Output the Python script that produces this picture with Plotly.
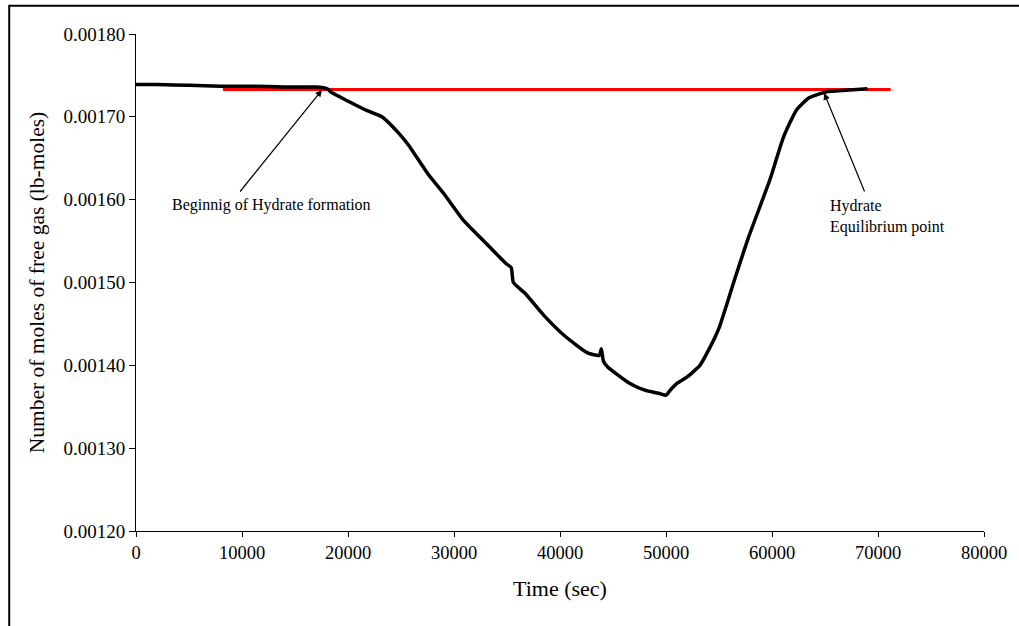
import plotly.graph_objects as go

# Free-gas moles in the cell over time during hydrate formation
time_s = [0, 2000, 5000, 8000, 11000, 14000, 17000, 18000, 18500, 20000, 21700,
          23200, 24800, 25700, 27600, 29000, 30900, 33200, 34900, 35400, 35600,
          36700, 38500, 40400, 42600, 43700, 43900, 44100, 44500, 46600, 48000,
          49400, 50000, 50400, 51000, 52000, 53200, 54000, 55000, 56380, 57800,
          59800, 61100, 62300, 63500, 65100, 67000, 69000]
moles = [0.001739, 0.001739, 0.001738, 0.001737, 0.001737, 0.001736, 0.001736,
         0.001734, 0.001729, 0.001719, 0.001708, 0.001700, 0.001680, 0.001666,
         0.001630, 0.001608, 0.001575, 0.001545, 0.001523, 0.001518, 0.001500,
         0.001487, 0.001460, 0.001436, 0.001415, 0.001412, 0.001420, 0.001405,
         0.001398, 0.001378, 0.001370, 0.001366, 0.001364, 0.001370, 0.001378,
         0.001386, 0.001400, 0.001418, 0.001445, 0.001500, 0.001555, 0.001624,
         0.001676, 0.001708, 0.001723, 0.001730, 0.001732, 0.001734]

# Equilibrium level reference line
eq_time = [8200, 71200]
eq_level = [0.001733, 0.001733]

x_ticks = [0, 10000, 20000, 30000, 40000, 50000, 60000, 70000, 80000]
y_ticks = [0.00120, 0.00130, 0.00140, 0.00150, 0.00160, 0.00170, 0.00180]
y_tick_text = ["0.00120", "0.00130", "0.00140", "0.00150", "0.00160", "0.00170", "0.00180"]

FONT = "Liberation Serif, Times New Roman, serif"

fig = go.Figure()
fig.add_trace(go.Scatter(x=eq_time, y=eq_level, mode="lines",
                         line=dict(color="#ff0000", width=3), showlegend=False))
fig.add_trace(go.Scatter(x=time_s, y=moles, mode="lines",
                         line=dict(color="black", width=3.5, shape="spline", smoothing=0.5),
                         showlegend=False))

# Arrow pointing at the start of hydrate formation
fig.add_annotation(x=17540, y=0.0017324, xref="x", yref="y", text="",
                   showarrow=True, ax=-83, ay=103, arrowhead=2, arrowsize=1.1,
                   arrowwidth=1.2, arrowcolor="black")
fig.add_annotation(x=12760, y=0.0015935, xref="x", yref="y",
                   text="Beginnig of Hydrate formation", showarrow=False,
                   font=dict(family=FONT, size=16, color="black"))

# Arrow pointing at the equilibrium point
fig.add_annotation(x=64920, y=0.0017287, xref="x", yref="y", text="",
                   showarrow=True, ax=41, ay=100, arrowhead=2, arrowsize=1.1,
                   arrowwidth=1.2, arrowcolor="black")
fig.add_annotation(x=65290, y=0.0015802, xref="x", yref="y",
                   text="Hydrate<br>Equilibrium point", showarrow=False,
                   xanchor="left", align="left",
                   font=dict(family=FONT, size=16, color="black"))

# Outer frame around the chart
fig.add_shape(type="rect", xref="paper", yref="paper",
              x0=-0.1495, x1=1.3, y0=-0.4, y1=1.0568,
              line=dict(color="black", width=2))

fig.update_layout(
    width=1019, height=626,
    margin=dict(l=136, r=30, t=34, b=95),
    paper_bgcolor="white", plot_bgcolor="white",
    font=dict(family=FONT, color="black"),
    xaxis=dict(range=[0, 80000], tickvals=x_ticks, ticktext=[str(v) for v in x_ticks],
               showgrid=False, zeroline=False, showline=True, linecolor="black",
               linewidth=1, ticks="outside", ticklen=5, tickcolor="black",
               tickfont=dict(family=FONT, size=18.5),
               title=dict(text="Time (sec)", font=dict(family=FONT, size=22), standoff=18)),
    yaxis=dict(range=[0.00120, 0.00180], tickvals=y_ticks, ticktext=y_tick_text,
               showgrid=False, zeroline=False, showline=True, linecolor="black",
               linewidth=1, ticks="outside", ticklen=6, tickcolor="black",
               tickfont=dict(family=FONT, size=19),
               title=dict(text="Number of moles of free gas (lb-moles)",
                          font=dict(family=FONT, size=21.5), standoff=12)),
)

fig.write_html("out.html")
